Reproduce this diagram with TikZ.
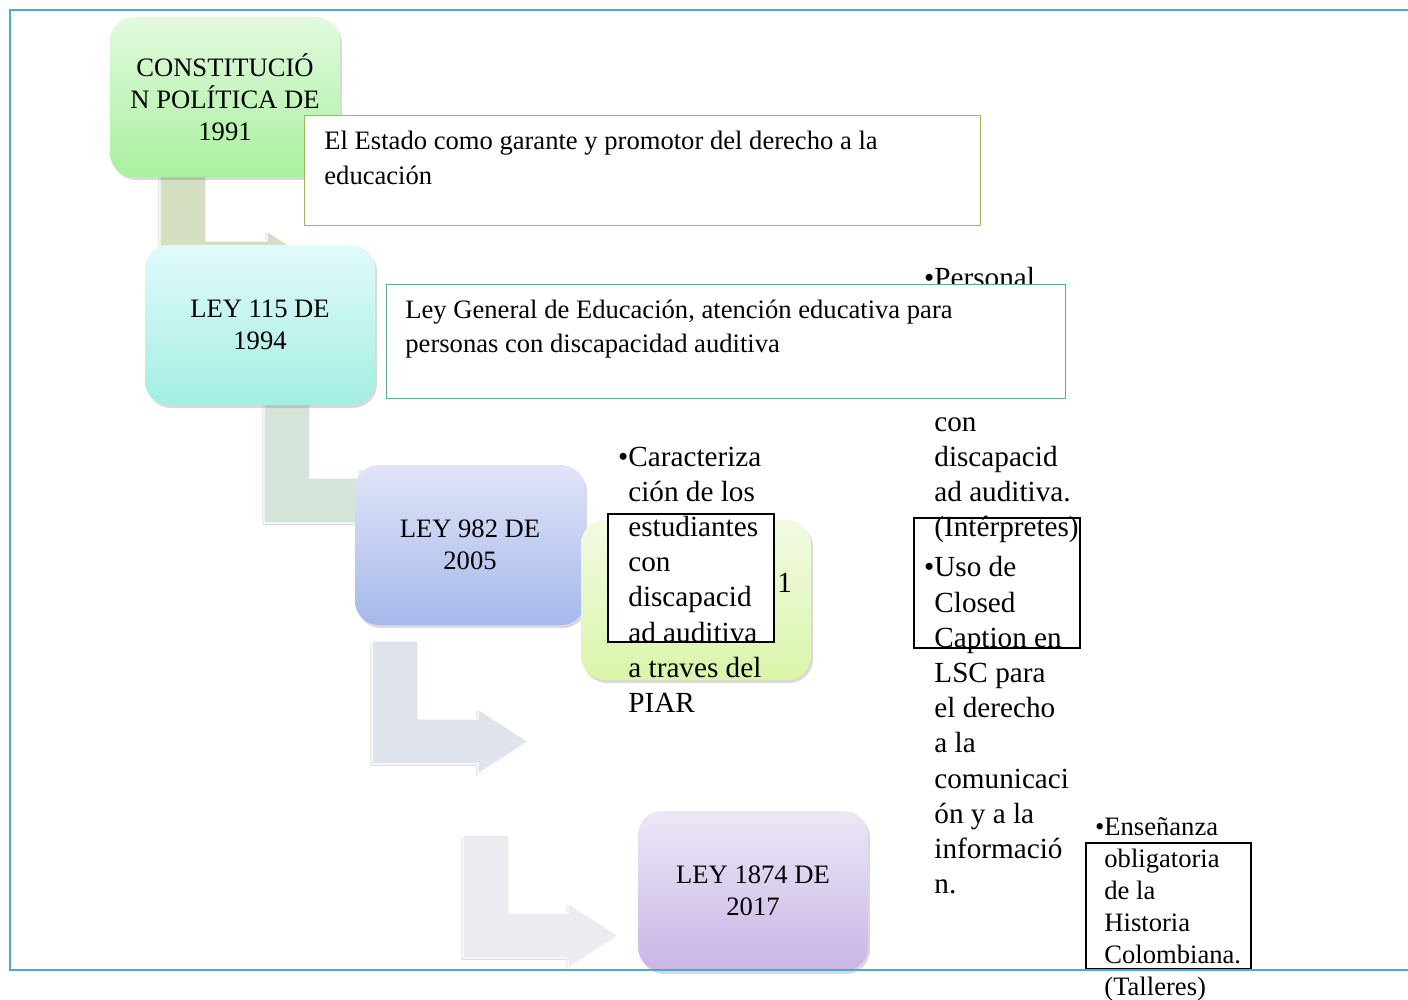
\documentclass[tikz,border=0pt]{standalone}
\usepackage{fontspec}
\setmainfont{Liberation Serif}
\usetikzlibrary{shadows}

\definecolor{marco}{RGB}{75,172,198}
\definecolor{bordeA}{RGB}{155,187,89}
\definecolor{bordeB}{RGB}{95,172,150}
\definecolor{flechaA}{RGB}{212,222,192}
\definecolor{flechaB}{RGB}{212,228,216}
\definecolor{flechaC}{RGB}{222,227,236}
\definecolor{flechaD}{RGB}{236,235,242}

% flecha en L: estilo, x izq, y arriba, y barra, x cabeza, x punta
\newcommand{\enlace}[6]{\fill[flecha,#1] (#2,#3) -- (#2+46,#3) -- (#2+46,#4) -- (#5,#4) -- (#5,#4-10) -- (#6,#4+22.5) -- (#5,#4+55) -- (#5,#4+45) -- (#2,#4+45) -- cycle;}
\newcommand{\vin}{\leavevmode\llap{\textbullet}}

\begin{document}
\begin{tikzpicture}[x=0.5pt,y=-0.5pt]
        \tikzstyle{every node}=[inner sep=0pt]
        \tikzstyle{hito}=[rounded corners=12pt, minimum width=115pt, minimum height=80pt, align=center, font=\fontsize{13.3}{16}\selectfont, drop shadow={shadow xshift=1pt, shadow yshift=-1.5pt, opacity=.3}]
        \tikzstyle{flecha}=[draw=white, line width=0.6pt, drop shadow={shadow xshift=-0.8pt, shadow yshift=-1pt, opacity=.25}]
        \tikzstyle{recuadro}=[fill=white, anchor=north west, line width=0.6pt]
        \tikzstyle{marca}=[draw=black, anchor=north west, line width=0.8pt]
        \tikzstyle{parrafo}=[anchor=base west, align=left, execute at begin node=\spaceskip.25em\relax]
        \tikzstyle{lista}=[parrafo, text width=90pt, font=\fontsize{14.6}{17.6}\selectfont]
        \useasboundingbox (0,0) rectangle (1408,1000);
        % flechas
        \enlace{fill=flechaA}{160}{170}{241}{267}{317}
        \enlace{fill=flechaB}{264}{400}{478}{360}{410}
        \enlace{fill=flechaC}{372}{641}{719}{478}{528}
        \enlace{fill=flechaD}{463}{835}{913}{568}{618}
        % leyes
        \node[hito, top color={rgb,255:red,226;green,250;blue,222}, bottom color={rgb,255:red,168;green,240;blue,158}] (cp91) at (225,97) {CONSTITUCIÓ\\N POLÍTICA DE\\1991};
        \node[hito, top color={rgb,255:red,225;green,250;blue,250}, bottom color={rgb,255:red,163;green,238;blue,225}] (ley115) at (260,325) {LEY 115 DE\\1994};
        \node[hito, top color={rgb,255:red,225;green,228;blue,248}, bottom color={rgb,255:red,165;green,185;blue,235}] (ley982) at (470,545) {LEY 982 DE\\2005};
        \node[hito, top color={rgb,255:red,242;green,250;blue,228}, bottom color={rgb,255:red,218;green,245;blue,168}] (piar) at (696,600) {};
        \node[anchor=base west, font=\fontsize{14.6}{17.6}\selectfont] (uno) at (777,592) {1};
        \node[hito, top color={rgb,255:red,236;green,231;blue,246}, bottom color={rgb,255:red,200;green,182;blue,230}] (ley1874) at (753,891) {LEY 1874 DE\\2017};
        % textos
        \node[lista] (perso) at (934,288) {\vin Personal};
        \node[lista] (interp) at (934,431) {con\\discapacid\\ad auditiva.\\(Intérpretes)\\[2.5pt]\vin Uso de\\Closed\\Caption en\\LSC para\\el derecho\\a la\\comunicaci\\ón y a la\\informació\\n.};
        \node[recuadro, draw=bordeA, minimum width=338pt, minimum height=55pt] (recA) at (304,115) {};
        \node[parrafo, text width=340pt, font=\fontsize{13.3}{17.5}\selectfont] (txtA) at (324,150) {El Estado como garante y promotor del derecho a la\\educación};
        \node[recuadro, draw=bordeB, minimum width=339.5pt, minimum height=57pt] (recB) at (386,284) {};
        \node[parrafo, text width=340pt, font=\fontsize{13.3}{17}\selectfont] (txtB) at (405,319) {Ley General de Educación, atención educativa para\\personas con discapacidad auditiva};
        \node[recuadro, marca, minimum width=83pt, minimum height=64pt] (recC) at (607,513) {};
        \node[lista] (caract) at (628,466) {\vin Caracteriza\\ción de los\\estudiantes\\con\\discapacid\\ad auditiva\\a traves del\\PIAR};
        \node[marca, minimum width=83pt, minimum height=65pt] (recD) at (913,517) {};
        \node[marca, minimum width=82.5pt, minimum height=63pt] (recE) at (1085,842) {};
        \node[parrafo, text width=80pt, font=\fontsize{13.3}{16}\selectfont] (ense) at (1104,835) {\vin Enseñanza\\obligatoria\\de la\\Historia\\Colombiana.\\(Talleres)};
        % marco
        \draw[marco, line width=1.2pt] (1408,10) -- (10,10) -- (10,970) -- (1408,970);
\end{tikzpicture}
\end{document}
